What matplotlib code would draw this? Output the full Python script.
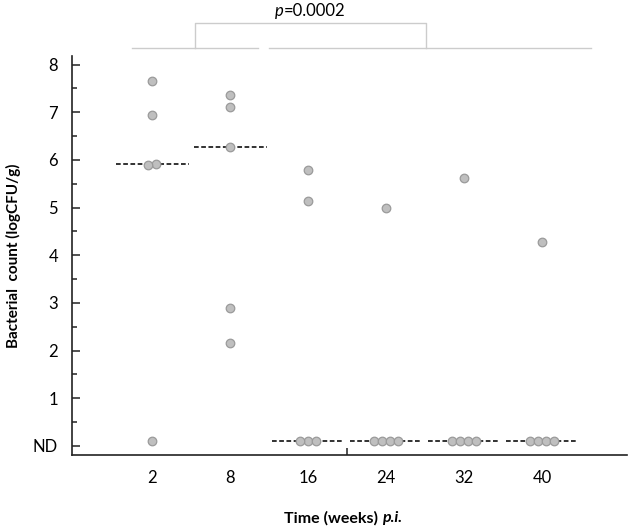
import numpy as np
import matplotlib
matplotlib.use('Agg')
import matplotlib.pyplot as plt
from matplotlib.ticker import FixedLocator

plt.rcParams['font.family'] = ['Lato', 'DejaVu Sans']

weeks = ['2', '8', '16', '24', '32', '40']
# detected counts (logCFU/g) per time point
detected = [
    [7.65, 6.95, 5.91, 5.89],
    [7.37, 7.11, 6.28, 2.90, 2.16],
    [5.78, 5.14],
    [5.00],
    [5.63],
    [4.28],
]
nd_counts = [1, 0, 3, 4, 4, 4]
ND_LEVEL = 0.1
p_value = '=0.0002'


def swarm_offsets(vals, gap=0.2, step=0.103):
    # spread points that sit (nearly) on the same level
    vals = np.asarray(vals, dtype=float)
    order = np.argsort(vals)
    offs = np.zeros(len(vals))
    groups = []
    for i in order:
        if groups and abs(vals[i] - vals[groups[-1][-1]]) < gap:
            groups[-1].append(i)
        else:
            groups.append([i])
    for g in groups:
        n = len(g)
        for k, idx in enumerate(g):
            offs[idx] = (k - (n - 1) / 2) * step
    return offs


fig = plt.figure(figsize=(6.3, 5.29), dpi=100)
ax = fig.add_axes([0.1143, 0.140, 0.881, 0.754])

for i, (vals, n_nd) in enumerate(zip(detected, nd_counts)):
    x0 = i + 1
    all_vals = list(vals) + [ND_LEVEL] * n_nd
    offs = swarm_offsets(all_vals)
    ax.scatter(x0 + offs, all_vals, s=38, facecolor='#bfbfbf',
               edgecolor='#9a9a9a', linewidth=0.9, zorder=3)
    med = np.median(all_vals)
    ax.plot([x0 - 0.465, x0 + 0.465], [med, med], color='#222222',
            lw=1.3, dashes=(2.6, 1.4), zorder=2)

ax.set_xlim(-0.03, 7.09)
ax.set_ylim(-0.19, 8.18)

ax.set_xticks(range(1, len(weeks) + 1))
ax.set_xticklabels(weeks)
ax.xaxis.set_minor_locator(FixedLocator([3.5]))
ax.tick_params(axis='x', which='major', length=0, pad=11, labelsize=12)
ax.tick_params(axis='x', which='minor', direction='in', length=5, width=1.1,
               color='#222222')

ax.set_yticks(range(0, 9))
ax.set_yticklabels(['ND'] + [str(v) for v in range(1, 9)])
ax.yaxis.set_minor_locator(FixedLocator(np.arange(0.5, 8, 1.0)))
ax.tick_params(axis='y', which='major', direction='in', length=6, width=1.1,
               pad=10, labelsize=12, color='#222222')
ax.tick_params(axis='y', which='minor', direction='in', length=3.5, width=1.1,
               color='#222222')

for side in ['top', 'right']:
    ax.spines[side].set_visible(False)
for side in ['left', 'bottom']:
    ax.spines[side].set_linewidth(1.2)
    ax.spines[side].set_color('#222222')

# x label: "Time (weeks)" bold + "p.i." bold italic
xl = ax.text(0.47, -0.158, 'Time (weeks) ', transform=ax.transAxes,
             ha='center', va='center', fontsize=11.5, fontweight='bold')
ax.annotate('p.i.', xy=(1, 0), xycoords=xl, ha='left', va='bottom',
            fontsize=11.5, fontweight='bold', style='italic')

ax.set_ylabel('Bacterial  count (logCFU/g)', fontsize=11, fontweight='bold',
              va='center')
ax.yaxis.set_label_coords(-0.105, 0.5)

# significance bracket above the plot
br = dict(color='#cccccc', lw=1.0, clip_on=False)
ax.plot([0.74, 2.36], [8.34, 8.34], **br)
ax.plot([2.50, 6.63], [8.34, 8.34], **br)
ax.plot([1.55, 1.55, 4.51, 4.51], [8.34, 8.87, 8.87, 8.34], **br)
pt = ax.text(2.69, 9.12, 'p', ha='right', va='center', style='italic',
             fontsize=12, clip_on=False)
ax.annotate(p_value, xy=(1, 0), xycoords=pt, ha='left', va='bottom',
            fontsize=12)

fig.savefig('out.png', dpi=100)
